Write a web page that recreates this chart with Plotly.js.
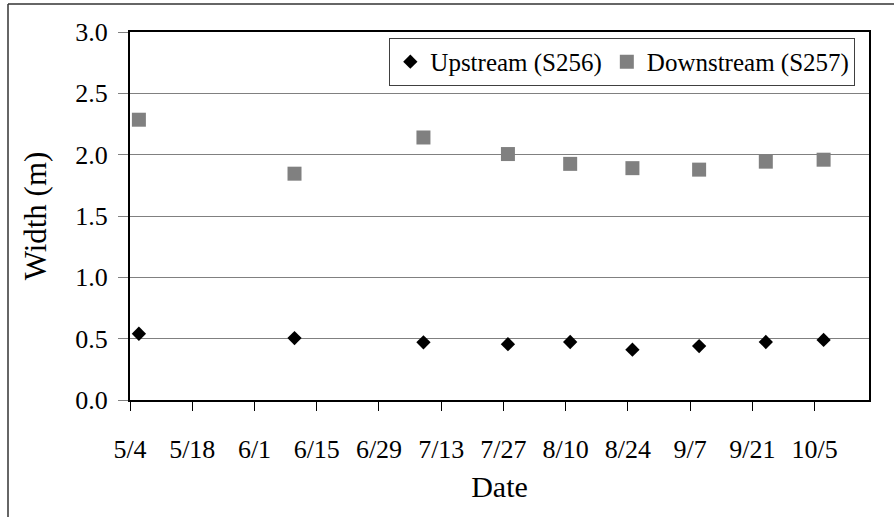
<!DOCTYPE html>
<html>
<head>
<meta charset="utf-8">
<script src="https://cdn.plot.ly/plotly-3.0.1.min.js"></script>
<style>
  html, body { margin: 0; padding: 0; background: #ffffff; }
  #chart { width: 894px; height: 517px; }
</style>
</head>
<body>
<div id="chart"></div>
<script>
// Sampling dates (year is nominal; axis shows month/day only)
const sampleDates = ['2008-05-06', '2008-06-10', '2008-07-09', '2008-07-28', '2008-08-11',
                     '2008-08-25', '2008-09-09', '2008-09-24', '2008-10-07'];
// Width (m) at each station
const upstreamWidth   = [0.54, 0.505, 0.47, 0.455, 0.473, 0.41, 0.44, 0.473, 0.49];
const downstreamWidth = [2.285, 1.845, 2.14, 2.005, 1.925, 1.89, 1.878, 1.943, 1.959];
// Series names
const seriesNames = ['Upstream (S256)', 'Downstream (S257)'];
// X tick positions and labels
const xTickDates  = ['2008-05-04', '2008-05-18', '2008-06-01', '2008-06-15', '2008-06-29', '2008-07-13',
                     '2008-07-27', '2008-08-10', '2008-08-24', '2008-09-07', '2008-09-21', '2008-10-05'];
const xTickLabels = ['5/4', '5/18', '6/1', '6/15', '6/29', '7/13', '7/27', '8/10', '8/24', '9/7', '9/21', '10/5'];
// Y ticks
const yTickVals   = [0, 0.5, 1.0, 1.5, 2.0, 2.5, 3.0];
const yTickLabels = ['0.0', '0.5', '1.0', '1.5', '2.0', '2.5', '3.0'];

const FONT = 'Liberation Serif, Times New Roman, serif';

const traces = [
  {
    x: sampleDates, y: upstreamWidth, name: seriesNames[0],
    type: 'scatter', mode: 'markers',
    marker: { symbol: 'diamond', size: 11, color: '#000000', line: { width: 0 } }
  },
  {
    x: sampleDates, y: downstreamWidth, name: seriesNames[1],
    type: 'scatter', mode: 'markers',
    marker: { symbol: 'square', size: 14, color: '#808080', line: { width: 0 } }
  }
];

const layout = {
  width: 894, height: 517,
  margin: { l: 130, r: 25, t: 32, b: 117, pad: 0 },
  paper_bgcolor: '#ffffff', plot_bgcolor: '#ffffff',
  font: { family: FONT, size: 26, color: '#000000' },
  showlegend: true,
  legend: {
    orientation: 'h',
    x: 0.9815, xanchor: 'right',
    y: 0.984, yanchor: 'top',
    bgcolor: '#ffffff', bordercolor: '#404040', borderwidth: 1,
    font: { family: FONT, size: 25, color: '#000000' },
    itemwidth: 30, itemclick: false
  },
  xaxis: {
    type: 'date',
    range: ['2008-05-04', '2008-10-17 05:00'],
    tickvals: xTickDates, ticktext: xTickLabels,
    ticks: 'outside', ticklen: 9, tickwidth: 1, tickcolor: '#000000',
    ticklabelstandoff: 16,
    showgrid: false, zeroline: false,
    showline: true, linecolor: '#000000', linewidth: 2, mirror: true,
    tickfont: { family: FONT, size: 26, color: '#000000' },
    title: { text: 'Date', font: { family: FONT, size: 30, color: '#000000' }, standoff: 13 },
    fixedrange: true
  },
  yaxis: {
    range: [0, 3],
    tickvals: yTickVals, ticktext: yTickLabels,
    ticks: 'outside', ticklen: 10, tickwidth: 1, tickcolor: '#808080',
    ticklabelstandoff: 5,
    showgrid: true, gridcolor: '#808080', gridwidth: 1,
    zeroline: false,
    showline: true, linecolor: '#000000', linewidth: 2, mirror: true,
    tickfont: { family: FONT, size: 26, color: '#000000' },
    title: { text: 'Width (m)', font: { family: FONT, size: 31, color: '#000000' }, standoff: 19 },
    fixedrange: true
  },
  shapes: [
    { type: 'line', xref: 'paper', yref: 'paper', layer: 'below',
      x0: (8 - 130) / 739, x1: (900 - 130) / 739, y0: (400 - 4) / 368, y1: (400 - 4) / 368,
      line: { color: '#333333', width: 1.5 } },
    { type: 'line', xref: 'paper', yref: 'paper', layer: 'below',
      x0: (8 - 130) / 739, x1: (8 - 130) / 739, y0: (400 - 4) / 368, y1: (400 - 525) / 368,
      line: { color: '#333333', width: 1.5 } }
  ]
};

Plotly.newPlot('chart', traces, layout, { staticPlot: true, displayModeBar: false });
</script>
</body>
</html>
